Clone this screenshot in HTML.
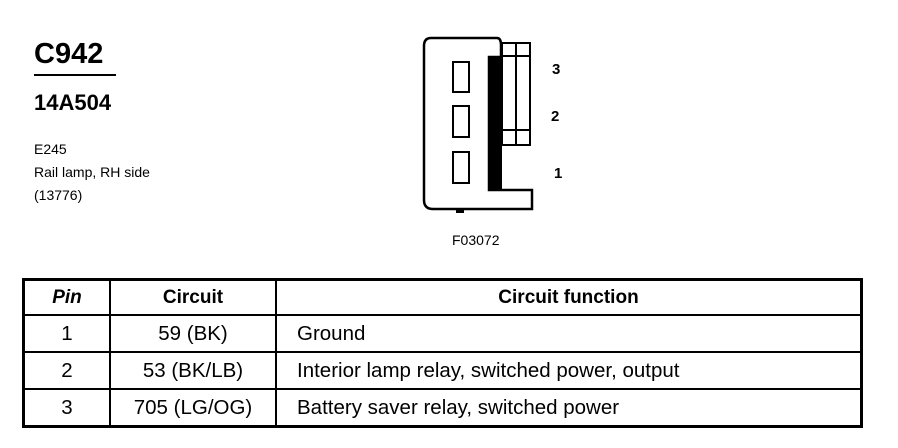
<!DOCTYPE html>
<html><head><style>
body{margin:0;width:898px;height:448px;background:#fff;position:relative;font-family:"Liberation Sans",Arial,sans-serif;color:#000;overflow:hidden}
.a{position:absolute;white-space:nowrap}
table{position:absolute;left:22px;top:278px;width:841px;border-collapse:collapse;border:3px solid #000;table-layout:fixed}
td{border:2px solid #000;font-size:20.5px;height:35px;padding:0}
td.c{text-align:center}
th{border:2px solid #000;font-size:19px;height:31px;font-weight:bold}
</style></head><body>
<div class="a" style="left:34px;top:38px;font-size:29px;font-weight:bold">C942</div>
<div class="a" style="left:34px;top:74px;width:82px;height:2px;background:#000"></div>
<div class="a" style="left:34px;top:90px;font-size:22px;font-weight:bold">14A504</div>
<div class="a" style="left:34px;top:138px;font-size:14px;line-height:23px">E245<br>Rail lamp, RH side<br>(13776)</div>

<svg class="a" style="left:0;top:0" width="898" height="270">
<g fill="none" stroke="#000" stroke-width="2.5">
<path d="M431 38 H497 Q501 38 501 45 V57 H489 V190 H532 V209 H433 Q424 209 424 200 V46 Q424 38 431 38 Z"/>
<rect x="502" y="43" width="28" height="102" stroke-width="2"/>
<line x1="516" y1="43" x2="516" y2="145" stroke-width="2"/>
<line x1="502" y1="56" x2="530" y2="56" stroke-width="2"/>
<line x1="502" y1="130" x2="530" y2="130" stroke-width="2"/>
<rect x="453" y="62" width="16" height="30" stroke-width="2"/>
<rect x="453" y="106" width="16" height="31" stroke-width="2"/>
<rect x="453" y="152" width="16" height="31" stroke-width="2"/>
</g>
<rect x="489" y="57" width="13" height="133" fill="#000"/>
<rect x="456" y="209" width="8" height="4" fill="#000"/>
<g font-family="Liberation Sans, Arial, sans-serif" font-weight="bold" font-size="15">
<text x="552" y="74">3</text><text x="551" y="121">2</text><text x="554" y="178">1</text>
</g>
<text x="452" y="245" font-family="Liberation Sans, Arial, sans-serif" font-size="14">F03072</text>
</svg>

<table>
<tr><th style="width:82px"><i>Pin</i></th><th style="width:162px">Circuit</th><th>Circuit function</th></tr>
<tr><td class="c">1</td><td class="c">59 (BK)</td><td style="padding-left:20px">Ground</td></tr>
<tr><td class="c">2</td><td class="c">53 (BK/LB)</td><td style="padding-left:20px">Interior lamp relay, switched power, output</td></tr>
<tr><td class="c">3</td><td class="c">705 (LG/OG)</td><td style="padding-left:20px">Battery saver relay, switched power</td></tr>
</table>
</body></html>
